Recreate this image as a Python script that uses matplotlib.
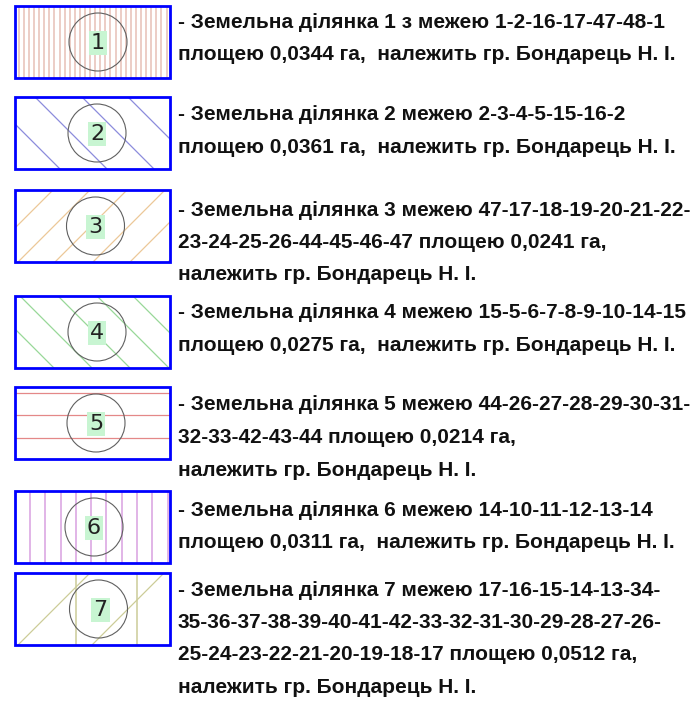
import matplotlib
matplotlib.use("Agg")
import matplotlib.pyplot as plt
from matplotlib.patches import Rectangle, Circle

# Legend data: plot number, hatch colour, description lines
plot_numbers = [1, 2, 3, 4, 5, 6, 7]
hatch_colors = ["#ebc9c1", "#8c8cdc", "#ecc898", "#98d898", "#e48888", "#d8a0e0", "#cccc98"]
descriptions = [
    ["- Земельна ділянка 1 з межею 1-2-16-17-47-48-1",
     "площею 0,0344 га,  належить гр. Бондарець Н. І."],
    ["- Земельна ділянка 2 межею 2-3-4-5-15-16-2",
     "площею 0,0361 га,  належить гр. Бондарець Н. І."],
    ["- Земельна ділянка 3 межею 47-17-18-19-20-21-22-",
     "23-24-25-26-44-45-46-47 площею 0,0241 га,",
     "належить гр. Бондарець Н. І."],
    ["- Земельна ділянка 4 межею 15-5-6-7-8-9-10-14-15",
     "площею 0,0275 га,  належить гр. Бондарець Н. І."],
    ["- Земельна ділянка 5 межею 44-26-27-28-29-30-31-",
     "32-33-42-43-44 площею 0,0214 га,",
     "належить гр. Бондарець Н. І."],
    ["- Земельна ділянка 6 межею 14-10-11-12-13-14",
     "площею 0,0311 га,  належить гр. Бондарець Н. І."],
    ["- Земельна ділянка 7 межею 17-16-15-14-13-34-",
     "35-36-37-38-39-40-41-42-33-32-31-30-29-28-27-26-",
     "25-24-23-22-21-20-19-18-17 площею 0,0512 га,",
     "належить гр. Бондарець Н. І."],
]

# layout (pixels, top-down)
box_tops = [6, 97, 190, 296, 387, 491, 573]
box_h = 72
box_x0, box_x1 = 15, 170
circle_cx = [98, 97, 95.5, 97, 96, 94, 98.5]
text_tops = [22, 115, 210, 313, 405, 510, 590]
line_step = 32.5

fig = plt.figure(figsize=(6.9, 7.03), dpi=100)
ax = fig.add_axes([0, 0, 1, 1])
ax.set_xlim(0, 690)
ax.set_ylim(703, 0)
ax.axis("off")


def hatch(ax, kind, y0, color, clip):
    # hatch pattern of each plot symbol, clipped to its frame
    y1 = y0 + box_h
    lines = []
    if kind == 1:
        x = 18.7
        while x < box_x1:
            lines.append(([x, x], [y0, y1], 1.3))
            x += 5.1
    elif kind == 2:
        for c in (-109, -62, -15, 31, 77, 123):
            lines.append(([c + y0, c + y1], [y0, y1], 0.9))
    elif kind == 3:
        for s in (243, 280, 317, 355, 392, 430, 467):
            lines.append(([s - 262, s - 190], [y1, y0], 0.9))
    elif kind == 4:
        for c in (-314, -276, -238, -199, -163, -125):
            lines.append(([c + y0, c + y1], [y0, y1], 0.9))
    elif kind == 5:
        for yy in (393, 415, 438):
            lines.append(([box_x0, box_x1], [yy, yy], 0.9))
    elif kind == 6:
        x = 30
        while x < box_x1:
            lines.append(([x, x], [y0, y1], 1.1))
            x += 15.3
    elif kind == 7:
        for x in (76, 137):
            lines.append(([x, x], [y0, y1], 1.1))
        for s in (663, 737):
            lines.append(([s - y1, s - y0], [y1, y0], 0.9))
    for xs, ys, lw in lines:
        ln, = ax.plot(xs, ys, color=color, lw=lw, solid_capstyle="butt", zorder=1)
        ln.set_clip_path(clip)


for i, num in enumerate(plot_numbers):
    y0 = box_tops[i]
    rect = Rectangle((box_x0, y0), box_x1 - box_x0, box_h, facecolor="white",
                     edgecolor="none", zorder=0)
    ax.add_patch(rect)
    hatch(ax, num, y0, hatch_colors[i], rect)
    ax.add_patch(Rectangle((box_x0, y0), box_x1 - box_x0, box_h, facecolor="none",
                           edgecolor="#0000ff", lw=2.0, zorder=3))
    cy = y0 + box_h / 2
    ax.add_patch(Circle((circle_cx[i], cy), 29, facecolor="none", edgecolor="#606060",
                        lw=0.8, zorder=2))
    ax.text(circle_cx[i] + (2 if num == 7 else 0), cy + 1, str(num), fontsize=16,
            family="DejaVu Sans", ha="center", va="center", color="#222222", zorder=4,
            bbox=dict(boxstyle="square,pad=0.1", facecolor="#c8f5d2", edgecolor="none"))
    for j, line in enumerate(descriptions[i]):
        ax.text(178, text_tops[i] + j * line_step, line, fontsize=15, fontweight="bold",
                family="Liberation Sans", ha="left", va="center", color="#111111")

fig.savefig("out.png", dpi=100, facecolor="white")
